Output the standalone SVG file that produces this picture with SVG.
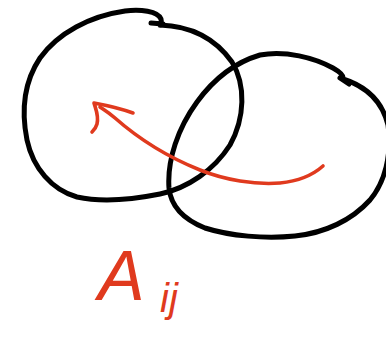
<svg xmlns="http://www.w3.org/2000/svg" width="386" height="355" viewBox="0 0 386 355">
<style>
.ring{fill:none;stroke:#000;stroke-width:5;stroke-linecap:round;stroke-linejoin:round}
.red{fill:none;stroke:#e03a1e;stroke-width:3.6;stroke-linecap:round;stroke-linejoin:round}
.lbl{fill:#e03a1e;font-family:"Liberation Sans",sans-serif;font-style:italic}
</style>
<rect width="386" height="355" fill="#fff"/>
<g id="setA">
<path class="ring" d="M160,25 C190,26 215,38 232,62 C246,85 245,118 230,145 C214,170 188,188 160,194 C130,200 100,202 77,197 C52,190 33,168 27,140 C21,110 24,82 40,58 C58,33 90,16 125,11 C140,9 158,11 161,19 C162,23 160,25 160,25 M151,23 L163,24"/>
</g>
<g id="setB">
<path class="ring" d="M343,79 C365,86 382,100 388,125 C392,155 385,182 370,200 C352,220 325,233 295,236 C265,239 230,236 205,228 C185,220 171,208 169,188 C167,160 178,128 197,102 C213,80 233,63 260,55 C285,50 315,58 333,68 C340,72 344,76 343,79 M340,78 L349,84"/>
</g>
<g id="connectors">
<path class="red" d="M323,166 C314,174 300,181 280,183 C255,185 225,180 200,170 C170,158 140,140 115,118 C108,112 103,109 100,107"/>
<path class="red" d="M133,113 C122,109 110,106 94,103 C96,110 99,116 97,124 C96,128 94,130 92,132"/>
</g>
<g id="label">
<text class="lbl" x="98" y="300" font-size="70">A</text>
<text class="lbl" x="160" y="312" font-size="40">ij</text>
</g>
</svg>
